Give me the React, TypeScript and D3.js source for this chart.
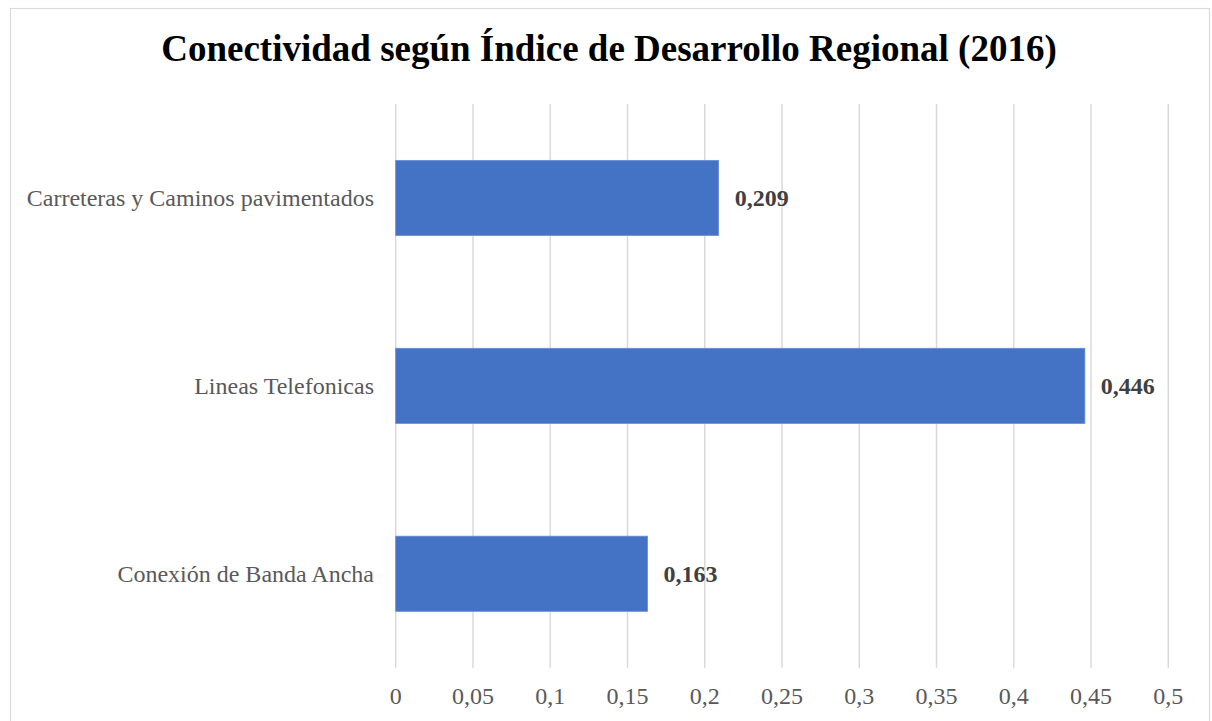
import React from "react";
import * as d3 from "d3";

const categories = ["Carreteras y Caminos pavimentados", "Lineas Telefonicas", "Conexión de Banda Ancha"];
const values = [0.209, 0.446, 0.163];
const valueLabels = ["0,209", "0,446", "0,163"];
const ticks = [0, 0.05, 0.1, 0.15, 0.2, 0.25, 0.3, 0.35, 0.4, 0.45, 0.5];
const title = "Conectividad según Índice de Desarrollo Regional (2016)";

const W = 1212;
const H = 721;
const FONT = "'Liberation Serif', 'Times New Roman', serif";

export default function App() {
  const x = d3.scaleLinear().domain([0, 0.5]).range([395.7, 1168.3]);
  const y = d3.scaleBand<string>().domain(categories).range([104, 667.7]).paddingInner(0.6).paddingOuter(0.3);
  const fmt = (v: number) => String(v).replace(".", ",");

  return (
    <div style={{ position: "absolute", left: 0, top: 0 }}>
      <svg width={W} height={H} style={{ display: "block", background: "#fff" }}>
        <rect x={10.5} y={8.5} width={1199} height={730} fill="#fff" stroke="#d9d9d9" strokeWidth={1.2} />
        <text x={609} y={61} textAnchor="middle" fontFamily={FONT} fontWeight="bold" fontSize={37} fill="#000">
          {title}
        </text>
        {ticks.map((t) => (
          <line key={"g" + t} x1={x(t)} x2={x(t)} y1={104} y2={667.7} stroke="#d9d9d9" strokeWidth={1.5} />
        ))}
        {ticks.map((t) => (
          <text key={"t" + t} x={x(t)} y={704} textAnchor="middle" fontFamily={FONT} fontSize={24} fill="#595959">
            {fmt(t)}
          </text>
        ))}
        {categories.map((c, i) => {
          const by = y(c)!;
          const bh = y.bandwidth();
          const cy = by + bh / 2;
          return (
            <g key={c}>
              <rect x={x(0)} y={by} width={x(values[i]) - x(0)} height={bh} fill="#4472C4" stroke="#6a8fd3" strokeWidth={0.8} />
              <text x={374} y={cy + 8} textAnchor="end" fontFamily={FONT} fontSize={24} fill="#595959">
                {c}
              </text>
              <text x={x(values[i]) + 16} y={cy + 8} fontFamily={FONT} fontWeight="bold" fontSize={24} fill="#404040">
                {valueLabels[i]}
              </text>
            </g>
          );
        })}
      </svg>
    </div>
  );
}
